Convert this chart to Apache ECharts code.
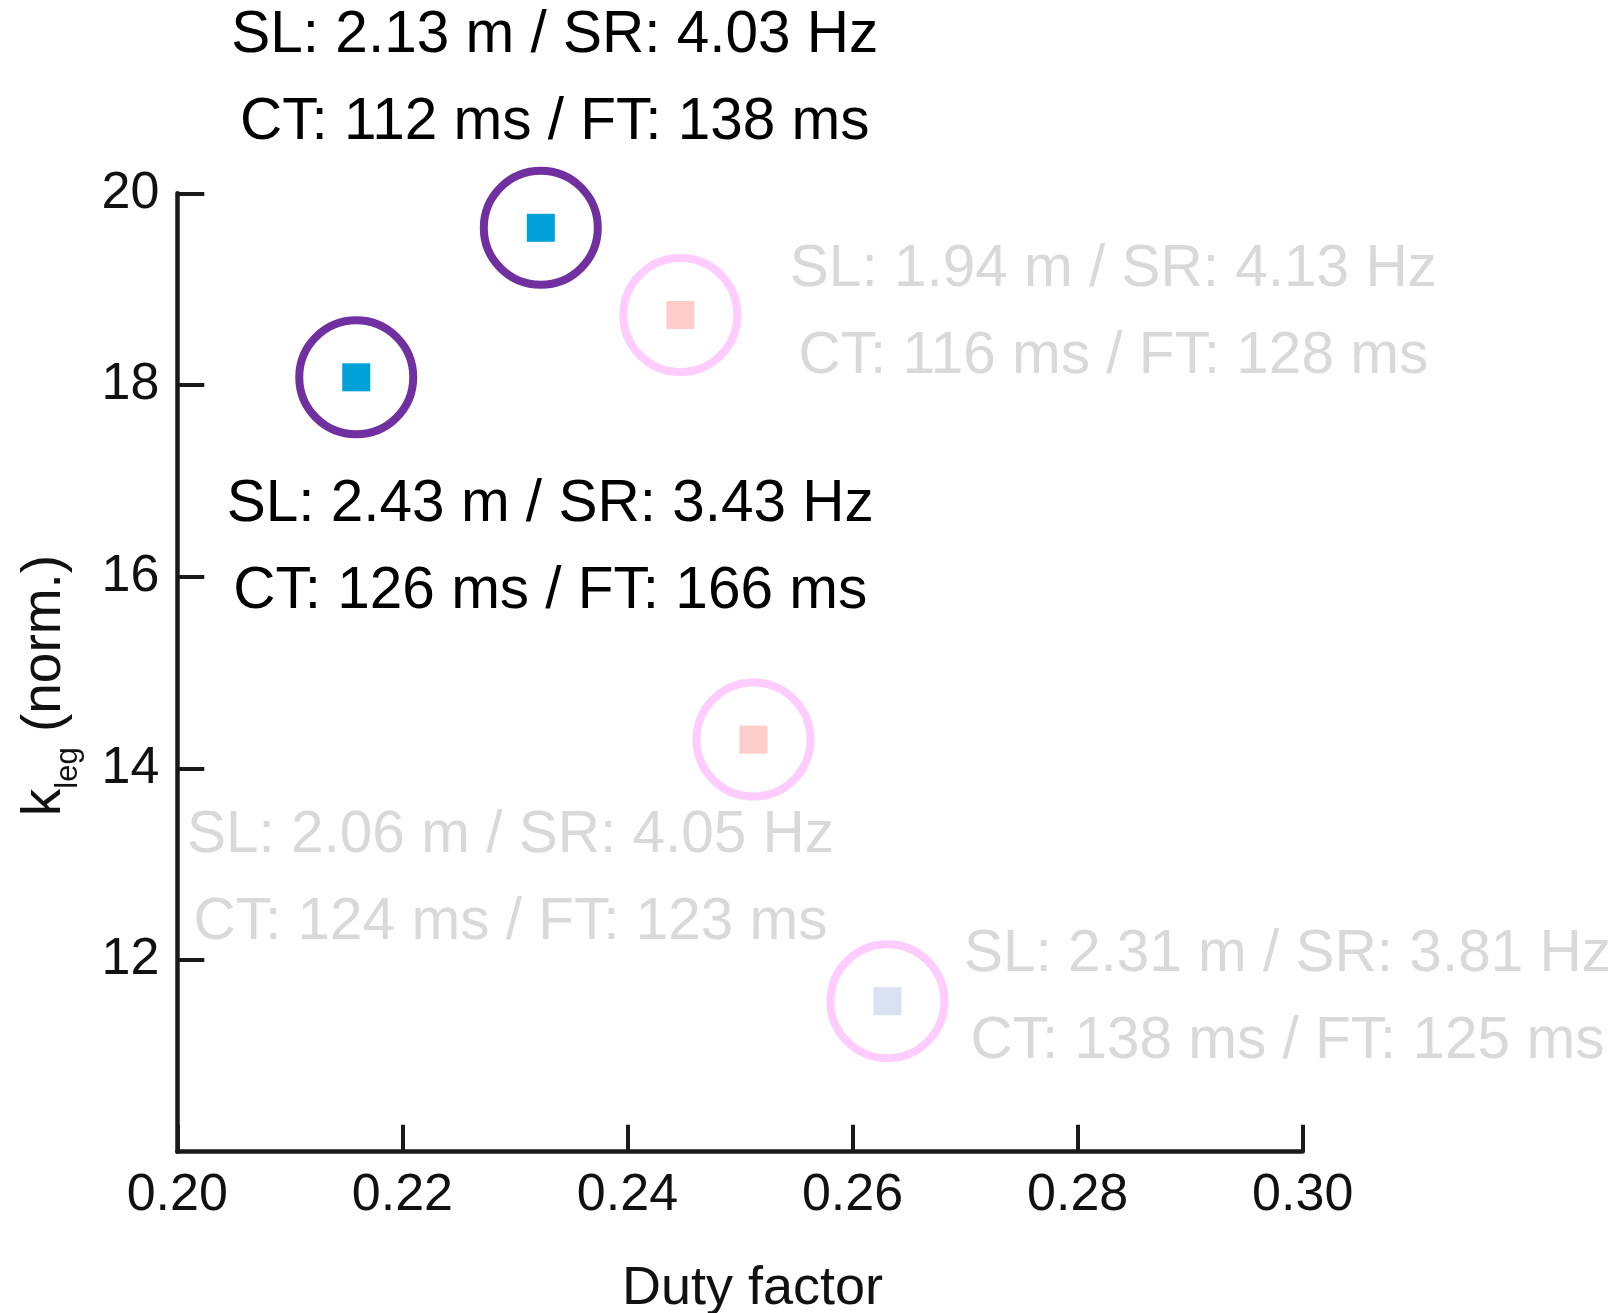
<!DOCTYPE html>
<html>
<head>
<meta charset="utf-8">
<script src="https://cdn.jsdelivr.net/npm/echarts@6/dist/echarts.min.js"></script>
<style>html,body{margin:0;padding:0;background:#fff}#c{width:1623px;height:1313px}</style>
</head>
<body>
<div id="c"></div>
<script>
// ---- data ----
const dutyFactor = [0.2159, 0.2323, 0.2447, 0.2512, 0.2631];
const kLeg       = [18.08, 19.64, 18.73, 14.30, 11.57];
const stepLength = ['2.43', '2.13', '1.94', '2.06', '2.31'];   // m
const stepRate   = ['3.43', '4.03', '4.13', '4.05', '3.81'];   // Hz
const contactTime = [126, 112, 116, 124, 138];                  // ms
const flightTime  = [166, 138, 128, 123, 125];                  // ms
const highlighted = [true, true, false, false, false];
const xTicks = [0.20, 0.22, 0.24, 0.26, 0.28, 0.30];
const yTicks = [12, 14, 16, 18, 20];

// ---- styles ----
const squareColors = ['#00A0D8', '#00A0D8', '#FFCCCC', '#FFCCCC', '#D9E1F2'];
const labelOffsets = [[194, 171], [14, -148], [433, -2], [-243, 140], [400, -3]];
const FONT = '"Liberation Sans", Arial, Helvetica, sans-serif';

const ringData = dutyFactor.map((x, i) => ({
  value: [x, kLeg[i]],
  itemStyle: {
    color: 'rgba(0,0,0,0)',
    borderColor: highlighted[i] ? '#7030A0' : '#FFCCFF',
    borderWidth: 8,
    opacity: 1
  }
}));

const squareData = dutyFactor.map((x, i) => ({
  value: [x, kLeg[i]],
  itemStyle: { color: squareColors[i], opacity: 1 },
  label: {
    show: true,
    position: 'inside',
    offset: labelOffsets[i],
    align: 'center',
    verticalAlign: 'middle',
    fontFamily: FONT,
    fontSize: 58.5,
    lineHeight: 87,
    textBorderWidth: 0,
    color: highlighted[i] ? '#000000' : '#D9D9D9',
    formatter: 'SL: ' + stepLength[i] + ' m / SR: ' + stepRate[i] + ' Hz\nCT: ' +
               contactTime[i] + ' ms / FT: ' + flightTime[i] + ' ms'
  }
}));

const chart = echarts.init(document.getElementById('c'), null, { renderer: 'canvas' });
chart.setOption({
  backgroundColor: '#ffffff',
  animation: false,
  grid: { left: 177.3, right: 320.3, top: 193.3, bottom: 161.3, containLabel: false, outerBoundsMode: 'none' },
  xAxis: {
    type: 'value',
    min: xTicks[0], max: xTicks[xTicks.length - 1], interval: 0.02,
    name: 'Duty factor',
    nameLocation: 'middle',
    nameGap: 110,
    nameTextStyle: { fontFamily: FONT, fontSize: 54, color: '#111', padding: [0, 0, 0, 25] },
    axisLine: { show: true, lineStyle: { color: '#1a1a1a', width: 4.5 } },
    axisTick: { show: true, inside: true, length: 27, lineStyle: { color: '#1a1a1a', width: 4 } },
    axisLabel: { fontFamily: FONT, fontSize: 52, color: '#111', margin: 18,
      formatter: v => v.toFixed(2) },
    splitLine: { show: false }
  },
  yAxis: {
    type: 'value',
    min: 10, max: yTicks[yTicks.length - 1], interval: 2,
    name: '{k|k}{s|leg}{n| (norm.)}',
    nameLocation: 'middle',
    nameRotate: 90,
    nameGap: 105,
    nameTextStyle: {
      fontFamily: FONT, fontSize: 54, color: '#111', padding: [0, 26, 0, 0],
      rich: {
        k: { fontFamily: FONT, fontSize: 55, color: '#111', lineHeight: 60, verticalAlign: 'bottom' },
        s: { fontFamily: FONT, fontSize: 31, color: '#111', lineHeight: 30, padding: [0, 0, -12, 0], verticalAlign: 'bottom' },
        n: { fontFamily: FONT, fontSize: 55, color: '#111', lineHeight: 60, verticalAlign: 'bottom' }
      }
    },
    axisLine: { show: true, lineStyle: { color: '#1a1a1a', width: 4.5 } },
    axisTick: { show: true, inside: true, length: 27, lineStyle: { color: '#1a1a1a', width: 4 } },
    axisLabel: { fontFamily: FONT, fontSize: 52, color: '#111', margin: 18, showMinLabel: false },
    splitLine: { show: false }
  },
  series: [
    {
      type: 'scatter',
      symbol: 'circle',
      symbolSize: 114,
      data: ringData,
      silent: true,
      z: 2
    },
    {
      type: 'scatter',
      symbol: 'rect',
      symbolSize: 28,
      data: squareData,
      silent: true,
      z: 3
    }
  ]
});
</script>
</body>
</html>
